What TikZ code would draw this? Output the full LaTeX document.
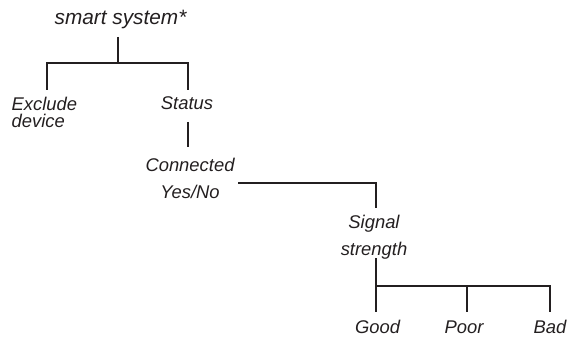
\documentclass[tikz,border=0pt]{standalone}
\usepackage{fontspec}
\setmainfont{Liberation Sans}
\definecolor{ink}{HTML}{231F20}
\begin{document}
\begin{tikzpicture}[x=1pt,y=-1pt,
  lbl/.style={inner sep=0pt, text=ink, font=\fontsize{18.4}{27}\selectfont\itshape},
  tight/.style={font=\fontsize{18.4}{17.5}\selectfont\itshape},
  title/.style={font=\fontsize{20.8}{24}\selectfont\itshape},
  link/.style={draw=ink, line width=1.6pt}]
\useasboundingbox (0,0) rectangle (569,339);
% nodes
\node[lbl, title, anchor=base] (root) at (120.5,25) {smart system*};
\node[lbl, tight, anchor=base west, align=left] (excl) at (11.5,128) {Exclude\\device};
\node[lbl, anchor=base] (status) at (187,110) {Status};
\node[lbl, anchor=base, align=center] (conn) at (190,198) {Connected\\Yes/No};
\node[lbl, anchor=base, align=center] (sig) at (374,255) {Signal\\strength};
\node[lbl, anchor=base] (good) at (377.5,333) {Good};
\node[lbl, anchor=base] (poor) at (464,333) {Poor};
\node[lbl, anchor=base] (bad) at (550,333) {Bad};
% connector points
\coordinate (r0) at (118,37);
\coordinate (r1) at (118,63);
\coordinate (rl) at (47,63);
\coordinate (rr) at (188,63);
\coordinate (el) at (47,90);
\coordinate (sl) at (188,90);
\coordinate (s0) at (188,122);
\coordinate (s1) at (188,147);
\coordinate (c0) at (238,183);
\coordinate (c1) at (376,183);
\coordinate (c2) at (376,208);
\coordinate (g0) at (376,258);
\coordinate (g1) at (376,286);
\coordinate (g2) at (376,312);
\coordinate (p1) at (467,286);
\coordinate (p2) at (467,312);
\coordinate (b1) at (550,286);
\coordinate (b2) at (550,312);
% connectors
\draw[link] (r0) -- (r1);
\draw[link] (el) -- (rl) -- (rr) -- (sl);
\draw[link] (s0) -- (s1);
\draw[link] (c0) -- (c1) -- (c2);
\draw[link] (g0) -- (g2);
\draw[link] (g1) -- (b1) -- (b2);
\draw[link] (p1) -- (p2);
\end{tikzpicture}
\end{document}
